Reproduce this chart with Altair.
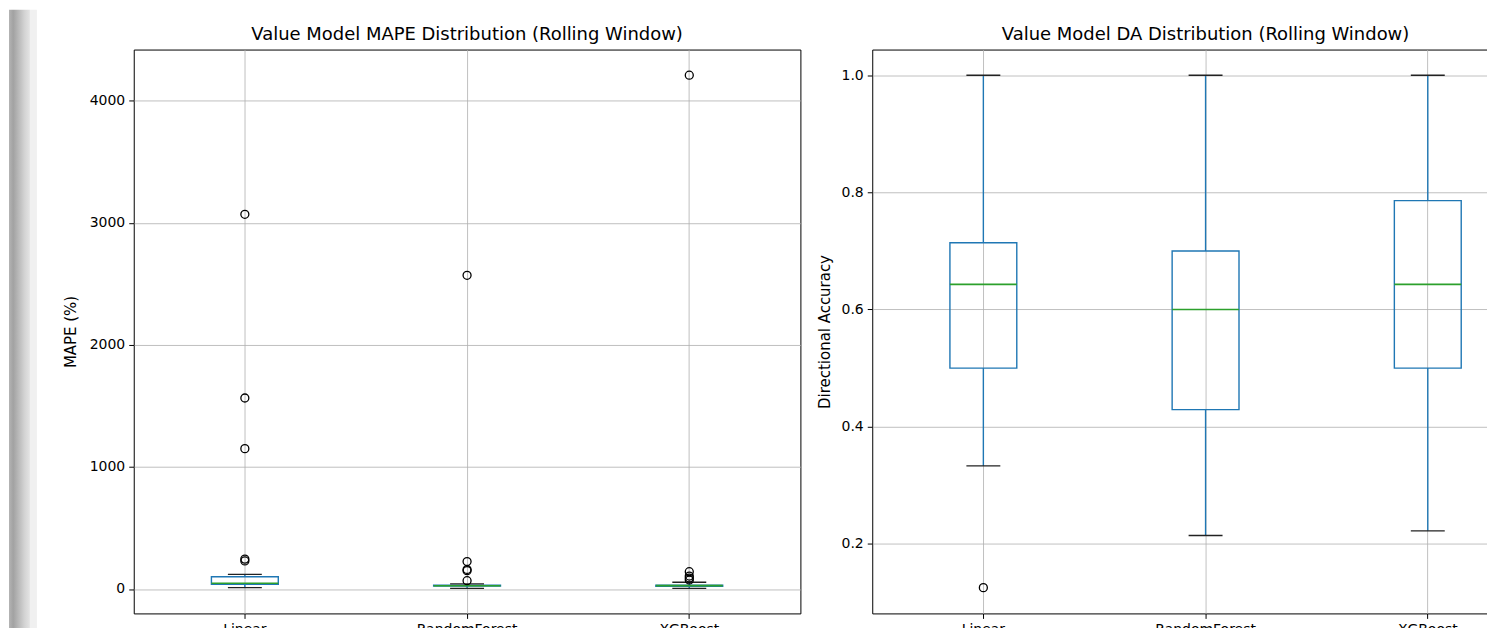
import altair as alt
import pandas as pd

models = ["Linear", "RandomForest", "XGBoost"]

# MAPE (%) box statistics
mape_low = [11, 5, 5]
mape_q1 = [38, 24, 23]
mape_med = [47, 27, 28]
mape_q3 = [101, 31, 32]
mape_high = [120, 42, 55]
mape_out_linear = [3070, 1565, 1150, 245, 230]
mape_out_rf = [2570, 225, 160, 150, 68]
mape_out_xgb = [4210, 142, 106, 90, 74]
mape_ticks = [0, 1000, 2000, 3000, 4000]

# Directional accuracy box statistics
da_low = [0.333, 0.214, 0.222]
da_q1 = [0.5, 0.429, 0.5]
da_med = [0.643, 0.6, 0.643]
da_q3 = [0.714, 0.7, 0.786]
da_high = [1.0, 1.0, 1.0]
da_out_linear = [0.125]
da_out_rf = []
da_out_xgb = []
da_ticks = [0.2, 0.4, 0.6, 0.8, 1.0]

C_BOX = "#1f77b4"
C_MED = "#2ca02c"
FONT = "DejaVu Sans"


def stats_df(low, q1, med, q3, high):
    return pd.DataFrame({"model": models, "low": low, "q1": q1, "med": med,
                         "q3": q3, "high": high})


def out_df(*lists):
    rows = []
    for m, vals in zip(models, lists):
        for v in vals:
            rows.append({"model": m, "v": v})
    return pd.DataFrame(rows, columns=["model", "v"])


def panel(stats, outs, dom, ticks, fmt, title, ytitle, tpad, strip=False):
    ysc = alt.Scale(domain=dom, nice=False, zero=False)
    xsc = alt.Scale(domain=models, paddingInner=0, paddingOuter=0)
    xax = alt.Axis(title=None, labelAngle=0, bandPosition=0.5, grid=True,
                   gridColor="#b0b0b0", gridWidth=0.8, tickColor="black",
                   tickSize=5, labelPadding=4, domain=False)
    yax = alt.Axis(title=ytitle, values=ticks, format=fmt, grid=True,
                   gridColor="#b0b0b0", gridWidth=0.8, tickColor="black",
                   tickSize=5, labelPadding=4, titlePadding=tpad, domain=False)
    X = alt.X("model:N", scale=xsc, axis=xax)

    def Y(f):
        return alt.Y(f"{f}:Q", scale=ysc, axis=yax)

    one = alt.Chart(pd.DataFrame({"t": [title]}))
    b = alt.Chart(stats)
    layers = []
    if strip:
        # decorative grey window edge at the far left of the screenshot
        grad = alt.LinearGradient(gradient="linear", x1=0, x2=1, y1=0, y2=0,
                                  stops=[alt.GradientStop(color="#b4b4b4", offset=0),
                                         alt.GradientStop(color="#a2a2a2", offset=0.2),
                                         alt.GradientStop(color="#d4d4d4", offset=0.75),
                                         alt.GradientStop(color="#e4e4e4", offset=1)])
        s1 = one.mark_rect(color=grad, opacity=1).encode(
            x=alt.value(-125), x2=alt.value(-104), y=alt.value(-40), y2=alt.value(590))
        s2 = one.mark_rect(color="#f0f0f0", opacity=1).encode(
            x=alt.value(-104), x2=alt.value(-97), y=alt.value(-40), y2=alt.value(590))
        layers += [s1, s2]
    w1 = b.mark_rule(color=C_BOX, strokeWidth=1.4).encode(x=X, y=Y("low"), y2="q1")
    w2 = b.mark_rule(color=C_BOX, strokeWidth=1.4).encode(x=X, y=Y("q3"), y2="high")
    box = b.mark_bar(size=67, fillOpacity=0, stroke=C_BOX, strokeWidth=1.4).encode(
        x=X, y=Y("q1"), y2="q3")
    cap1 = b.mark_tick(size=34, thickness=1.4, color="#222222", opacity=1).encode(x=X, y=Y("low"))
    cap2 = b.mark_tick(size=34, thickness=1.4, color="#222222", opacity=1).encode(x=X, y=Y("high"))
    med = b.mark_tick(size=67, thickness=1.6, color=C_MED, opacity=1).encode(x=X, y=Y("med"))
    layers += [w1, w2, box, cap1, cap2, med]
    if len(outs):
        pts = alt.Chart(outs).mark_point(shape="circle", size=64, filled=False,
                                         color="black", strokeWidth=1.3,
                                         opacity=1).encode(x=X, y=Y("v"))
        layers.append(pts)
    ttl = one.mark_text(fontSize=18, font=FONT, color="black", align="center",
                        baseline="middle").encode(
        text="t:N", x=alt.value(334), y=alt.value(-15))
    layers.append(ttl)
    return alt.layer(*layers).properties(width=668, height=565)


left = panel(stats_df(mape_low, mape_q1, mape_med, mape_q3, mape_high),
             out_df(mape_out_linear, mape_out_rf, mape_out_xgb),
             [-200, 4420], mape_ticks, "d",
             "Value Model MAPE Distribution (Rolling Window)", "MAPE (%)", 11,
             strip=True)
right = panel(stats_df(da_low, da_q1, da_med, da_q3, da_high),
              out_df(da_out_linear, da_out_rf, da_out_xgb),
              [0.081, 1.044], da_ticks, ".1f",
              "Value Model DA Distribution (Rolling Window)", "Directional Accuracy", 9)

chart = alt.hconcat(left, right, spacing=15).properties(
    padding={"left": 0, "top": 0, "right": -53, "bottom": 0}
).configure(font=FONT).configure_view(stroke="black", strokeWidth=1).configure_axis(
    labelFont=FONT, titleFont=FONT, labelFontSize=14, titleFontSize=15,
    titleFontWeight="normal", labelColor="black", titleColor="black"
)

chart.save("out.html", embed_options={"renderer": "svg", "actions": False})
